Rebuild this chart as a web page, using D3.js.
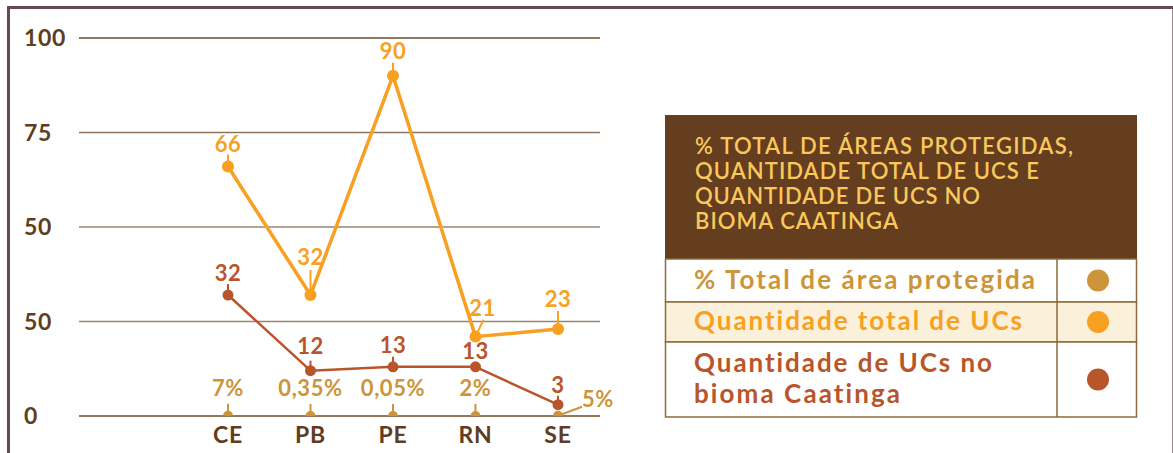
<!DOCTYPE html>
<html>
<head>
<meta charset="utf-8">
<script src="https://cdn.jsdelivr.net/npm/d3@7"></script>
<style>
  html, body { margin: 0; padding: 0; background: #fff; }
  svg { display: block; font-family: Lato, "Open Sans", sans-serif; font-variant-ligatures: none; }
</style>
</head>
<body>
<div id="chart"></div>
<script>
// dados do grafico
var estados = ["CE", "PB", "PE", "RN", "SE"];
var pctArea = [0.07, 0.0035, 0.0005, 0.02, 0.05];   // % total de area protegida
var qtdTotal = [66, 32, 90, 21, 23];                // quantidade total de UCs
var qtdCaatinga = [32, 12, 13, 13, 3];              // UCs no bioma Caatinga
var yTicks = [0, 25, 50, 75, 100];
var yTickLabels = ["0", "50", "50", "75", "100"];   // como aparece no original
var legendTitle = ["% TOTAL DE ÁREAS PROTEGIDAS,", "QUANTIDADE TOTAL DE UCS E", "QUANTIDADE DE UCS NO", "BIOMA CAATINGA"];
var legendRows = [["% Total de área protegida"], ["Quantidade total de UCs"], ["Quantidade de UCs no", "bioma Caatinga"]];

var width = 1173, height = 453;
var cTan = "#cc953a", cOrange = "#f7a021", cRed = "#b9552a", cText = "#5f3d1e";

var svg = d3.select("#chart").append("svg")
  .attr("width", width)
  .attr("height", height);

// moldura
svg.append("line").attr("x1", 7).attr("x2", width).attr("y1", 7.5).attr("y2", 7.5)
  .attr("stroke", "#6a4a50").attr("stroke-width", 3);
svg.append("line").attr("x1", 8.5).attr("x2", 8.5).attr("y1", 6).attr("y2", height)
  .attr("stroke", "#6a4a50").attr("stroke-width", 3);
svg.append("line").attr("x1", 1172.5).attr("x2", 1172.5).attr("y1", 9).attr("y2", height)
  .attr("stroke", "#a08890").attr("stroke-width", 1);

var x = d3.scalePoint().domain(estados).range([228, 558]);
var y = d3.scaleLinear().domain([0, 100]).range([416, 38]);

// linhas de grade
var gridColors = ["#6e4b2c", "#9a8470", "#9a8470", "#8a7360", "#6e4b2c"];
svg.append("g").selectAll("line")
  .data(yTicks)
  .enter()
  .append("line")
  .attr("x1", 79).attr("x2", 600)
  .attr("y1", function (d) { return y(d); })
  .attr("y2", function (d) { return y(d); })
  .attr("stroke", function (d, i) { return gridColors[i]; })
  .attr("stroke-width", 1.6);

svg.append("g").selectAll("text")
  .data(yTicks)
  .enter()
  .append("text")
  .attr("x", 24)
  .attr("y", function (d) { return y(d) + 8; })
  .attr("fill", cText)
  .attr("font-size", 23)
  .attr("font-weight", 700)
  .attr("letter-spacing", 0.6)
  .text(function (d, i) { return yTickLabels[i]; });

// eixo x
svg.append("g").selectAll("text")
  .data(estados)
  .enter()
  .append("text")
  .attr("x", function (d) { return x(d); })
  .attr("y", 443)
  .attr("text-anchor", "middle")
  .attr("fill", cText)
  .attr("font-size", 23)
  .attr("font-weight", 700)
  .attr("letter-spacing", 0.8)
  .text(function (d) { return d; });

function fmtPct(v) {
  return String(+(v * 100).toFixed(2)).replace(".", ",") + "%";
}

// series: tick acima do ponto + rotulo
var orangeLbl = [[0, -15, 0, -12], [0, -30, 0, -25], [0, -17, 0, -13], [7, -21, 8, -17], [0, -22, 0, -18]];
var redLbl = [[0, -14, 0, -11], [0, -17, 0, -10], [0, -14, 0, -10], [0, -8, 0, -4], [0, -12, 0, -9]];
var tanLbl = [[0, -20, 0, -12], [0, -20, 0, -12], [0, -20, 0, -12], [0, -20, 0, -12], [40, -9, 24, -9]];

function drawSeries(values, color, lw, r, lbl, fmt, semi) {
  var g = svg.append("g");
  var pts = values.map(function (v, i) { return [x(estados[i]), y(v)]; });
  if (!semi) {
    g.append("path")
      .attr("d", d3.line()(pts))
      .attr("fill", "none")
      .attr("stroke", color)
      .attr("stroke-width", lw)
      .attr("stroke-linejoin", "round");
  }
  // ticks
  g.selectAll(".tk").data(pts).enter().append("line")
    .attr("x1", function (d) { return d[0]; })
    .attr("y1", function (d) { return d[1]; })
    .attr("x2", function (d, i) { return d[0] + lbl[i][2]; })
    .attr("y2", function (d, i) { return d[1] + lbl[i][3]; })
    .attr("stroke", color)
    .attr("stroke-width", 2);
  if (semi) {
    var arc = d3.arc().innerRadius(0).outerRadius(r).startAngle(-Math.PI / 2).endAngle(Math.PI / 2);
    g.selectAll(".pt").data(pts).enter().append("path")
      .attr("d", arc())
      .attr("transform", function (d) { return "translate(" + d[0] + "," + d[1] + ")"; })
      .attr("fill", color);
  } else {
    g.selectAll(".pt").data(pts).enter().append("circle")
      .attr("cx", function (d) { return d[0]; })
      .attr("cy", function (d) { return d[1]; })
      .attr("r", r)
      .attr("fill", color);
  }
  g.selectAll(".lb").data(values).enter().append("text")
    .attr("x", function (d, i) { return pts[i][0] + lbl[i][0]; })
    .attr("y", function (d, i) { return pts[i][1] + lbl[i][1]; })
    .attr("text-anchor", "middle")
    .attr("fill", color)
    .attr("font-size", 22)
    .attr("font-weight", 700)
    .attr("letter-spacing", 0.6)
    .text(fmt);
}

drawSeries(pctArea, cTan, 2, 5, tanLbl, fmtPct, true);
drawSeries(qtdCaatinga, cRed, 2.5, 5.5, redLbl, function (d) { return d; }, false);
drawSeries(qtdTotal, cOrange, 3.5, 6, orangeLbl, function (d) { return d; }, false);

// legenda
var titleWidths = [378, 344, 285, 203];
var rowWidths = [[341], [328], [298, 206]];

var lg = svg.append("g");
lg.append("rect").attr("x", 665).attr("y", 115).attr("width", 472).attr("height", 144)
  .attr("fill", "#653d1f");
lg.append("text")
  .attr("fill", "#f9c85a")
  .attr("font-size", 22)
  .attr("font-weight", 600)
  .selectAll("tspan")
  .data(legendTitle)
  .enter()
  .append("tspan")
  .attr("x", 695)
  .attr("y", function (d, i) { return 154 + i * 25; })
  .attr("textLength", function (d, i) { return titleWidths[i]; })
  .attr("lengthAdjust", "spacing")
  .text(function (d) { return d; });

var rowY = [259, 302, 342, 417];
var rowColors = [cTan, cOrange, cRed];
var rowFill = ["#fff", "#fbf1db", "#fff"];
legendRows.forEach(function (lines, i) {
  lg.append("rect")
    .attr("x", 665.5).attr("y", rowY[i])
    .attr("width", 471).attr("height", rowY[i + 1] - rowY[i])
    .attr("fill", rowFill[i])
    .attr("stroke", "#8d6b3a").attr("stroke-width", 1.5);
  lg.append("line")
    .attr("x1", 1057).attr("x2", 1057)
    .attr("y1", rowY[i]).attr("y2", rowY[i + 1])
    .attr("stroke", "#8d6b3a").attr("stroke-width", 1.5);
  var mid = (rowY[i] + rowY[i + 1]) / 2;
  lg.append("circle").attr("cx", 1098).attr("cy", mid).attr("r", 11)
    .attr("fill", rowColors[i]);
  lg.append("text")
    .attr("fill", rowColors[i])
    .attr("font-size", 26)
    .attr("font-weight", 700)
    .selectAll("tspan")
    .data(lines)
    .enter()
    .append("tspan")
    .attr("x", 694)
    .attr("y", function (d, j) { return mid + 8 - (lines.length - 1) * 15.5 + j * 31; })
    .attr("textLength", function (d, j) { return rowWidths[i][j]; })
    .attr("lengthAdjust", "spacing")
    .text(function (d) { return d; });
});
</script>
</body>
</html>
